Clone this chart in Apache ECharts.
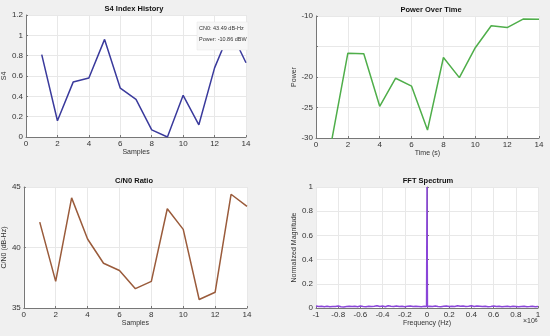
<!DOCTYPE html>
<html>
<head>
<meta charset="utf-8">
<script src="https://cdn.jsdelivr.net/npm/echarts@6/dist/echarts.min.js"></script>
<style>
  * { margin: 0; padding: 0; }
  body { background: #f0f0f0; }
  #chart { width: 550px; height: 336px; }
</style>
</head>
<body>
<div id="chart"></div>
<script>
// samples 1..14
var samples = [1, 2, 3, 4, 5, 6, 7, 8, 9, 10, 11, 12, 13, 14];
var s4Values = [0.81, 0.16, 0.54, 0.58, 0.96, 0.48, 0.37, 0.07, 0.0, 0.41, 0.12, 0.68, 1.05, 0.73];
var powerValues = [-30.2, -16.1, -16.2, -24.8, -20.2, -21.5, -28.7, -16.8, -20.1, -15.2, -11.6, -11.9, -10.5, -10.55];
var cn0Values = [42.1, 37.2, 44.1, 40.7, 38.7, 38.1, 36.6, 37.2, 43.2, 41.5, 35.7, 36.3, 44.4, 43.4];
var powerTickLabels = ['-10', '-20', '-25', '-30'];

// fft, frequency in units of 1e6 Hz
var fftFreq = [-1, -0.975, -0.95, -0.925, -0.9, -0.875, -0.85, -0.825, -0.8, -0.775,
  -0.75, -0.725, -0.7, -0.675, -0.65, -0.625, -0.6, -0.575, -0.55, -0.525,
  -0.5, -0.475, -0.45, -0.425, -0.4, -0.375, -0.35, -0.325, -0.3, -0.275,
  -0.25, -0.225, -0.2, -0.175, -0.15, -0.125, -0.1, -0.075, -0.05, -0.025,
  -0.004, 0, 0.004,
  0.025, 0.05, 0.075, 0.1, 0.125, 0.15, 0.175, 0.2, 0.225, 0.25,
  0.275, 0.3, 0.325, 0.35, 0.375, 0.4, 0.425, 0.45, 0.475, 0.5,
  0.525, 0.55, 0.575, 0.6, 0.625, 0.65, 0.675, 0.7, 0.725, 0.75,
  0.775, 0.8, 0.825, 0.85, 0.875, 0.9, 0.925, 0.95, 0.975, 1];
var fftMag = [0.016, 0.012, 0.014, 0.011, 0.015, 0.010, 0.013, 0.012, 0.017, 0.011,
  0.009, 0.013, 0.015, 0.012, 0.014, 0.010, 0.016, 0.013, 0.011, 0.015,
  0.012, 0.014, 0.018, 0.013, 0.016, 0.011, 0.019, 0.014, 0.012, 0.017,
  0.013, 0.015, 0.011, 0.014, 0.016, 0.012, 0.015, 0.013, 0.011, 0.014,
  0.013, 1, 0.012,
  0.015, 0.012, 0.016, 0.013, 0.011, 0.014, 0.017, 0.012, 0.015, 0.013,
  0.018, 0.014, 0.016, 0.012, 0.015, 0.019, 0.013, 0.016, 0.014, 0.012,
  0.015, 0.011, 0.013, 0.016, 0.012, 0.014, 0.010, 0.013, 0.015, 0.011,
  0.014, 0.012, 0.010, 0.013, 0.015, 0.011, 0.012, 0.014, 0.010, 0.013];

function pairs(xs, ys) {
  return xs.map(function (x, i) { return [x, ys[i]]; });
}

var FONT = 'Liberation Sans';
var labelStyle = { color: '#333', fontSize: 8, fontFamily: FONT };
var nameStyle = { color: '#333', fontSize: 7, fontFamily: FONT };

function xAx(idx, min, max, interval, name, fmt) {
  return {
    type: 'value', gridIndex: idx, min: min, max: max, interval: interval,
    name: name, nameLocation: 'middle', nameGap: 12, nameTextStyle: nameStyle,
    axisLine: { show: true, lineStyle: { color: '#777', width: 1 } },
    axisTick: { show: true, inside: true, length: 2, lineStyle: { color: '#777' } },
    axisLabel: Object.assign({ margin: 3, formatter: fmt }, labelStyle),
    splitLine: { show: true, lineStyle: { color: '#e8e8e8', width: 1 } }
  };
}
function yAx(idx, min, max, interval, name, gap, fmt) {
  return {
    type: 'value', gridIndex: idx, min: min, max: max, interval: interval,
    name: name, nameLocation: 'middle', nameGap: gap, nameTextStyle: nameStyle,
    axisLine: { show: true, lineStyle: { color: '#777', width: 1 } },
    axisTick: { show: true, inside: true, length: 2, lineStyle: { color: '#777' } },
    axisLabel: Object.assign({ margin: 3, formatter: fmt }, labelStyle),
    splitLine: { show: true, lineStyle: { color: '#e8e8e8', width: 1 } }
  };
}
function num(v) { return String(+v.toFixed(1)); }

function titleText(x, y, text) {
  return {
    type: 'text', x: x, y: y, z: 100,
    style: { text: text, fill: '#111', font: 'bold 7.5px ' + FONT, textAlign: 'center', textVerticalAlign: 'middle' }
  };
}

var chart = echarts.init(document.getElementById('chart'));
chart.setOption({
  backgroundColor: '#f0f0f0',
  animation: false,
  grid: [
    { left: 23, top: 15, width: 223, height: 122, backgroundColor: '#fff', show: true, borderWidth: 0 },
    { left: 316, top: 16, width: 223, height: 122, backgroundColor: '#fff', show: true, borderWidth: 0 },
    { left: 23, top: 187, width: 224, height: 121, backgroundColor: '#fff', show: true, borderWidth: 0 },
    { left: 316, top: 187, width: 222, height: 121, backgroundColor: '#fff', show: true, borderWidth: 0 }
  ],
  xAxis: [
    xAx(0, 0, 14, 2, 'Samples'),
    xAx(1, 0, 14, 2, 'Time (s)'),
    xAx(2, 0, 14, 2, 'Samples'),
    xAx(3, -1, 1, 0.2, 'Frequency (Hz)', num)
  ],
  yAxis: [
    yAx(0, 0, 1.2, 0.2, 'S4', 14, num),
    yAx(1, -30, -10, 5, 'Power', 16, function (v) {
      var s = String(v);
      return powerTickLabels.indexOf(s) >= 0 ? s : '';
    }),
    yAx(2, 35, 45, 5, 'C/N0 (dB-Hz)', 13),
    yAx(3, 0, 1, 0.2, 'Normalized Magnitude', 14, num)
  ],
  series: [
    { type: 'line', xAxisIndex: 0, yAxisIndex: 0, data: pairs(samples, s4Values), symbol: 'none',
      lineStyle: { color: '#3a3a9c', width: 1.5 }, clip: true },
    { type: 'line', xAxisIndex: 1, yAxisIndex: 1, data: pairs(samples, powerValues), symbol: 'none',
      lineStyle: { color: '#4fae4a', width: 1.5 }, clip: true },
    { type: 'line', xAxisIndex: 2, yAxisIndex: 2, data: pairs(samples, cn0Values), symbol: 'none',
      lineStyle: { color: '#9a5b3b', width: 1.5 }, clip: true },
    { type: 'line', xAxisIndex: 3, yAxisIndex: 3, data: pairs(fftFreq, fftMag), symbol: 'none',
      lineStyle: { color: '#8a45d8', width: 1.5 }, clip: true }
  ],
  graphic: [
    titleText(134, 9, 'S4 Index History'),
    titleText(431, 10, 'Power Over Time'),
    titleText(134, 181, 'C/N0 Ratio'),
    titleText(428, 181, 'FFT Spectrum'),
    { type: 'rect', shape: { x: 197, y: 22, width: 51, height: 28 }, z: 100,
      style: { fill: '#f7f7f7', stroke: '#e4e4e4', lineWidth: 0.5 } },
    { type: 'text', left: 199, top: 25, z: 101,
      style: { text: 'CN0: 43.49 dB-Hz', fill: '#333', font: '5.5px ' + FONT } },
    { type: 'text', left: 199, top: 36, z: 101,
      style: { text: 'Power: -10.86 dBW', fill: '#333', font: '5.5px ' + FONT } },
    { type: 'text', left: 523, top: 318, z: 101,
      style: { text: '×10{s|6}', fill: '#333', font: '7px ' + FONT,
        rich: { s: { fontSize: 5, verticalAlign: 'top', fontFamily: FONT, fill: '#333' } } } }
  ]
});
</script>
</body>
</html>
